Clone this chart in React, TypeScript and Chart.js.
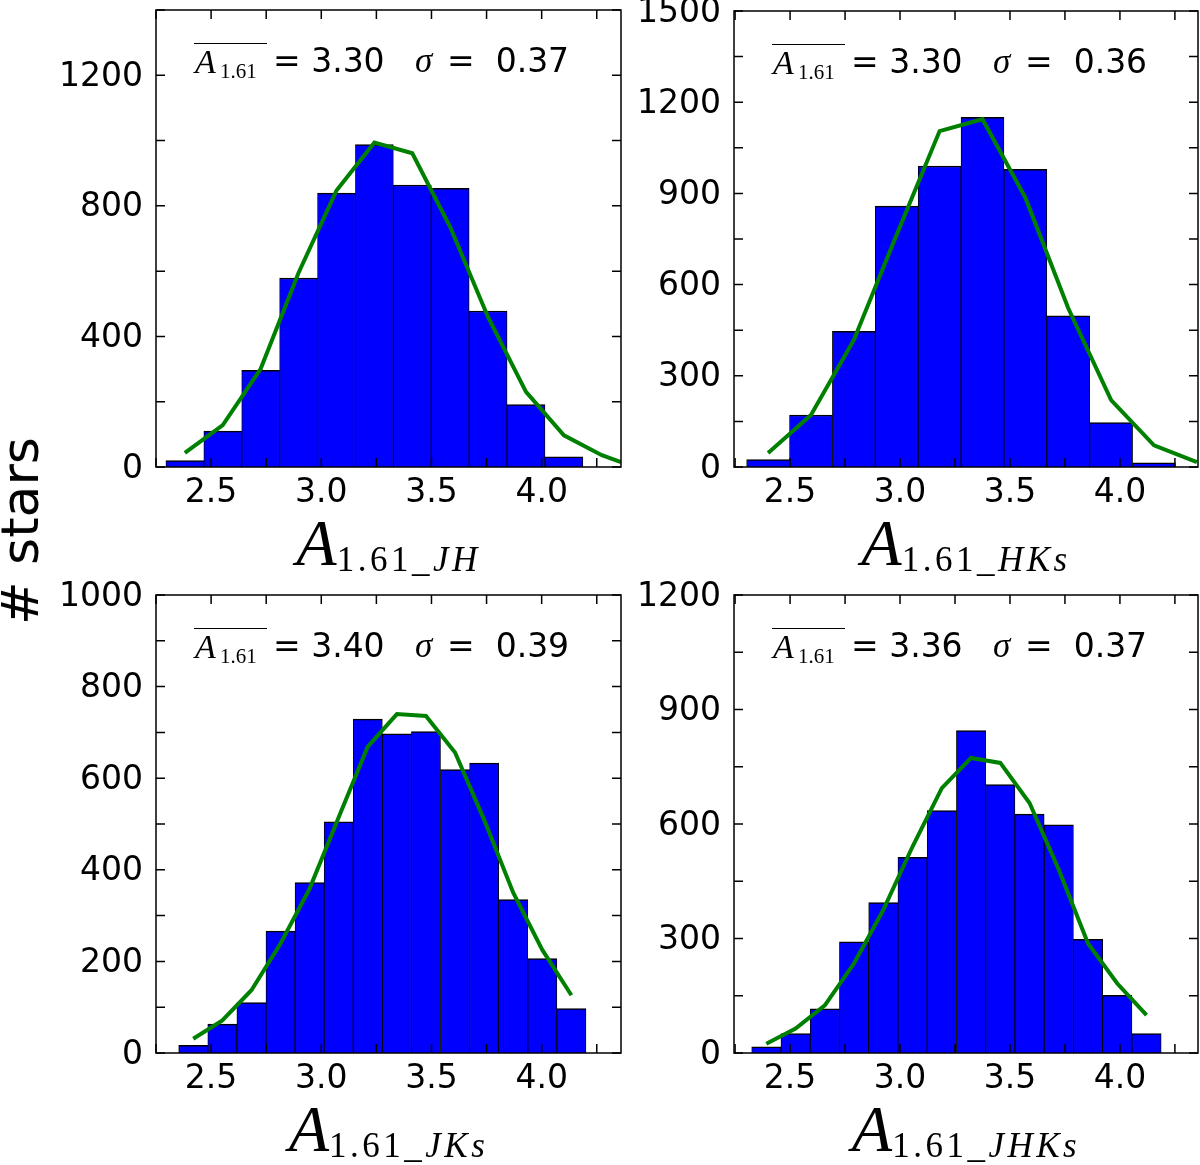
import { useEffect, useRef } from "react";
import { Chart, registerables } from "chart.js";

Chart.register(...registerables);

// A_1.61_JH
const jhCenters = [2.381, 2.553, 2.725, 2.897, 3.069, 3.241, 3.413, 3.585, 3.757, 3.929, 4.101];
const jhCounts = [20, 110, 296, 579, 839, 988, 864, 854, 478, 191, 31];
const jhFitX = [2.381, 2.553, 2.725, 2.897, 3.069, 3.241, 3.413, 3.585, 3.757, 3.929, 4.101, 4.273, 4.36];
const jhFitY = [43, 128, 301, 595, 847, 994, 961, 735, 459, 230, 97, 36, 15];

// A_1.61_HKs
const hksCenters = [2.4, 2.595, 2.79, 2.985, 3.18, 3.375, 3.57, 3.765, 3.96, 4.155];
const hksCounts = [24, 171, 446, 858, 990, 1150, 979, 497, 146, 14];
const hksFitX = [2.4, 2.595, 2.79, 2.985, 3.18, 3.375, 3.57, 3.765, 3.96, 4.155, 4.35];
const hksFitY = [46, 171, 418, 765, 1105, 1144, 886, 522, 220, 71, 16];

// A_1.61_JKs
const jksCenters = [2.419, 2.551, 2.683, 2.815, 2.947, 3.079, 3.211, 3.343, 3.475, 3.607, 3.739, 3.871, 4.003, 4.135];
const jksCounts = [17, 63, 110, 266, 372, 505, 729, 697, 702, 619, 633, 335, 206, 97];
const jksFitY = [31, 71, 137, 239, 359, 515, 669, 740, 736, 656, 509, 350, 225, 126];

// A_1.61_JHKs
const jhksCenters = [2.392, 2.525, 2.658, 2.791, 2.924, 3.057, 3.19, 3.323, 3.456, 3.589, 3.722, 3.855, 3.988, 4.121];
const jhksCounts = [16, 51, 116, 291, 394, 513, 635, 845, 703, 626, 598, 298, 151, 51];
const jhksFitY = [24, 64, 125, 235, 375, 541, 694, 773, 760, 655, 480, 287, 182, 99];

const SANS = "'DejaVu Sans', sans-serif";
const SERIF = "'Liberation Serif', 'DejaVu Serif', serif";

// plot rectangles [left, top, right, bottom] in page pixels
const PANELS = [
  { rect: [156, 10, 621, 467], centers: jhCenters, counts: jhCounts, fitX: jhFitX, fitY: jhFitY,
    xMin: 2.25, xMax: 4.36, yMax: 1400, yStep: 200, yLabelEvery: 400, mean: "3.30", sigma: "0.37", band: "JH" },
  { rect: [734, 11, 1198, 467], centers: hksCenters, counts: hksCounts, fitX: hksFitX, fitY: hksFitY,
    xMin: 2.245, xMax: 4.355, yMax: 1500, yStep: 150, yLabelEvery: 300, mean: "3.30", sigma: "0.36", band: "HKs" },
  { rect: [156, 595, 621, 1053], centers: jksCenters, counts: jksCounts, fitX: jksCenters, fitY: jksFitY,
    xMin: 2.25, xMax: 4.36, yMax: 1000, yStep: 100, yLabelEvery: 200, mean: "3.40", sigma: "0.39", band: "JKs" },
  { rect: [734, 595, 1198, 1053], centers: jhksCenters, counts: jhksCounts, fitX: jhksCenters, fitY: jhksFitY,
    xMin: 2.245, xMax: 4.355, yMax: 1200, yStep: 150, yLabelEvery: 300, mean: "3.36", sigma: "0.37", band: "JHKs" },
];

const LEFT = 130;
const TOP = 40;
const BOTTOM = 55;
const RIGHT = 2;
const TICK_FONT = 33;

// black box with inward ticks on all four sides
const framePlugin = {
  id: "frame",
  afterDatasetsDraw(chart: any) {
    const { ctx, chartArea: a, scales } = chart;
    const len = 9;
    ctx.save();
    ctx.strokeStyle = "#000";
    ctx.lineWidth = 1.5;
    ctx.beginPath();
    scales.x.ticks.forEach((t: any) => {
      const px = scales.x.getPixelForValue(t.value);
      ctx.moveTo(px, a.bottom);
      ctx.lineTo(px, a.bottom - len);
      ctx.moveTo(px, a.top);
      ctx.lineTo(px, a.top + len);
    });
    scales.y.ticks.forEach((t: any) => {
      const py = scales.y.getPixelForValue(t.value);
      ctx.moveTo(a.left, py);
      ctx.lineTo(a.left + len, py);
      ctx.moveTo(a.right, py);
      ctx.lineTo(a.right - len, py);
    });
    ctx.stroke();
    ctx.strokeRect(a.left, a.top, a.right - a.left, a.bottom - a.top);
    ctx.restore();
  },
};

function Panel({ p }: { p: (typeof PANELS)[number] }) {
  const canvasRef = useRef<HTMLCanvasElement>(null);
  const [l, t, r, b] = p.rect;
  const w = r - l + LEFT + RIGHT;
  const h = b - t + TOP + BOTTOM;

  useEffect(() => {
    if (!canvasRef.current) return;
    const chart = new Chart(canvasRef.current, {
      type: "bar",
      data: {
        datasets: [
          {
            type: "line",
            data: p.fitX.map((x, i) => ({ x, y: p.fitY[i] })),
            borderColor: "#008000",
            borderWidth: 4,
            pointRadius: 0,
            tension: 0,
            order: 0,
          } as any,
          {
            type: "bar",
            data: p.centers.map((x, i) => ({ x, y: p.counts[i] })),
            backgroundColor: "#0000ff",
            borderColor: "#000",
            borderWidth: { top: 1.5, left: 0.9, right: 0.9, bottom: 0 },
            barPercentage: 1,
            categoryPercentage: 1,
            order: 1,
          },
        ],
      },
      options: {
        animation: false,
        responsive: false,
        events: [],
        layout: { padding: { left: 0, top: TOP, right: RIGHT, bottom: 0 } },
        plugins: { legend: { display: false }, tooltip: { enabled: false } },
        scales: {
          x: {
            type: "linear",
            min: p.xMin,
            max: p.xMax,
            offset: false,
            grid: { display: false, drawTicks: false },
            border: { display: false },
            ticks: {
              stepSize: 0.25,
              includeBounds: false,
              autoSkip: false,
              maxRotation: 0,
              padding: 7,
              color: "#000",
              font: { family: SANS, size: TICK_FONT },
              callback: (v: any) =>
                Math.abs(v * 2 - Math.round(v * 2)) < 1e-6 ? Number(v).toFixed(1) : "",
            },
            afterFit: (s: any) => {
              s.height = BOTTOM;
            },
          },
          y: {
            type: "linear",
            min: 0,
            max: p.yMax,
            grid: { display: false, drawTicks: false },
            border: { display: false },
            ticks: {
              stepSize: p.yStep,
              autoSkip: false,
              padding: 13,
              labelOffset: 2,
              color: "#000",
              font: { family: SANS, size: TICK_FONT },
              callback: (v: any) => (Math.round(v) % p.yLabelEvery === 0 ? String(v) : ""),
            },
            afterFit: (s: any) => {
              s.width = LEFT;
            },
          },
        },
      },
      plugins: [framePlugin],
    });
    return () => chart.destroy();
  }, [p]);

  const sans = (x: number, base: number, size: number): React.CSSProperties => ({
    position: "absolute",
    left: x,
    top: base - 0.846 * size,
    fontFamily: SANS,
    fontSize: size,
    lineHeight: 1,
    whiteSpace: "pre",
    color: "#000",
  });
  const serif = (x: number, base: number, size: number, italic = true): React.CSSProperties => ({
    position: "absolute",
    left: x,
    top: base - 0.838 * size,
    fontFamily: SERIF,
    fontStyle: italic ? "italic" : "normal",
    fontSize: size,
    lineHeight: 1,
    whiteSpace: "pre",
    color: "#000",
  });

  const titleSize = 66;
  return (
    <>
      <canvas
        ref={canvasRef}
        width={w}
        height={h}
        style={{ position: "absolute", left: l - LEFT, top: t - TOP, width: w, height: h }}
      />
      {/* mean and sigma */}
      <div
        style={{ position: "absolute", left: l + 38, top: t + 33, width: 73, borderTop: "1.5px solid #000" }}
      />
      <span style={serif(l + 39, t + 63, 34)}>A</span>
      <span style={serif(l + 64, t + 69, 21, false)}>1.61</span>
      <span style={sans(l + 117, t + 62, 33)}>= {p.mean}</span>
      <span style={serif(l + 259, t + 62, 35)}>σ</span>
      <span style={sans(l + 291, t + 62, 33)}>=  {p.sigma}</span>
      {/* x axis title */}
      <div
        style={{
          position: "absolute",
          left: (l + r) / 2,
          top: b + 98 - 0.838 * titleSize,
          transform: "translateX(-50%)",
          fontFamily: SERIF,
          fontSize: titleSize,
          lineHeight: 1,
          whiteSpace: "nowrap",
          color: "#000",
        }}
      >
        <i>A</i>
        <span style={{ fontSize: 35, position: "relative", top: 6, letterSpacing: 3.5 }}>
          1.61_<i>{p.band}</i>
        </span>
      </div>
    </>
  );
}

export default function App() {
  return (
    <div style={{ position: "absolute", left: 0, top: 0, width: 1200, height: 1165, background: "#fff", overflow: "hidden" }}>
      {PANELS.map((p, i) => (
        <Panel key={i} p={p} />
      ))}
      <div
        style={{
          position: "absolute",
          left: 20,
          top: 531,
          transform: "translate(-50%, -50%) rotate(-90deg)",
          fontFamily: SANS,
          fontSize: 52,
          lineHeight: 1,
          whiteSpace: "nowrap",
          color: "#000",
        }}
      >
        # stars
      </div>
    </div>
  );
}
